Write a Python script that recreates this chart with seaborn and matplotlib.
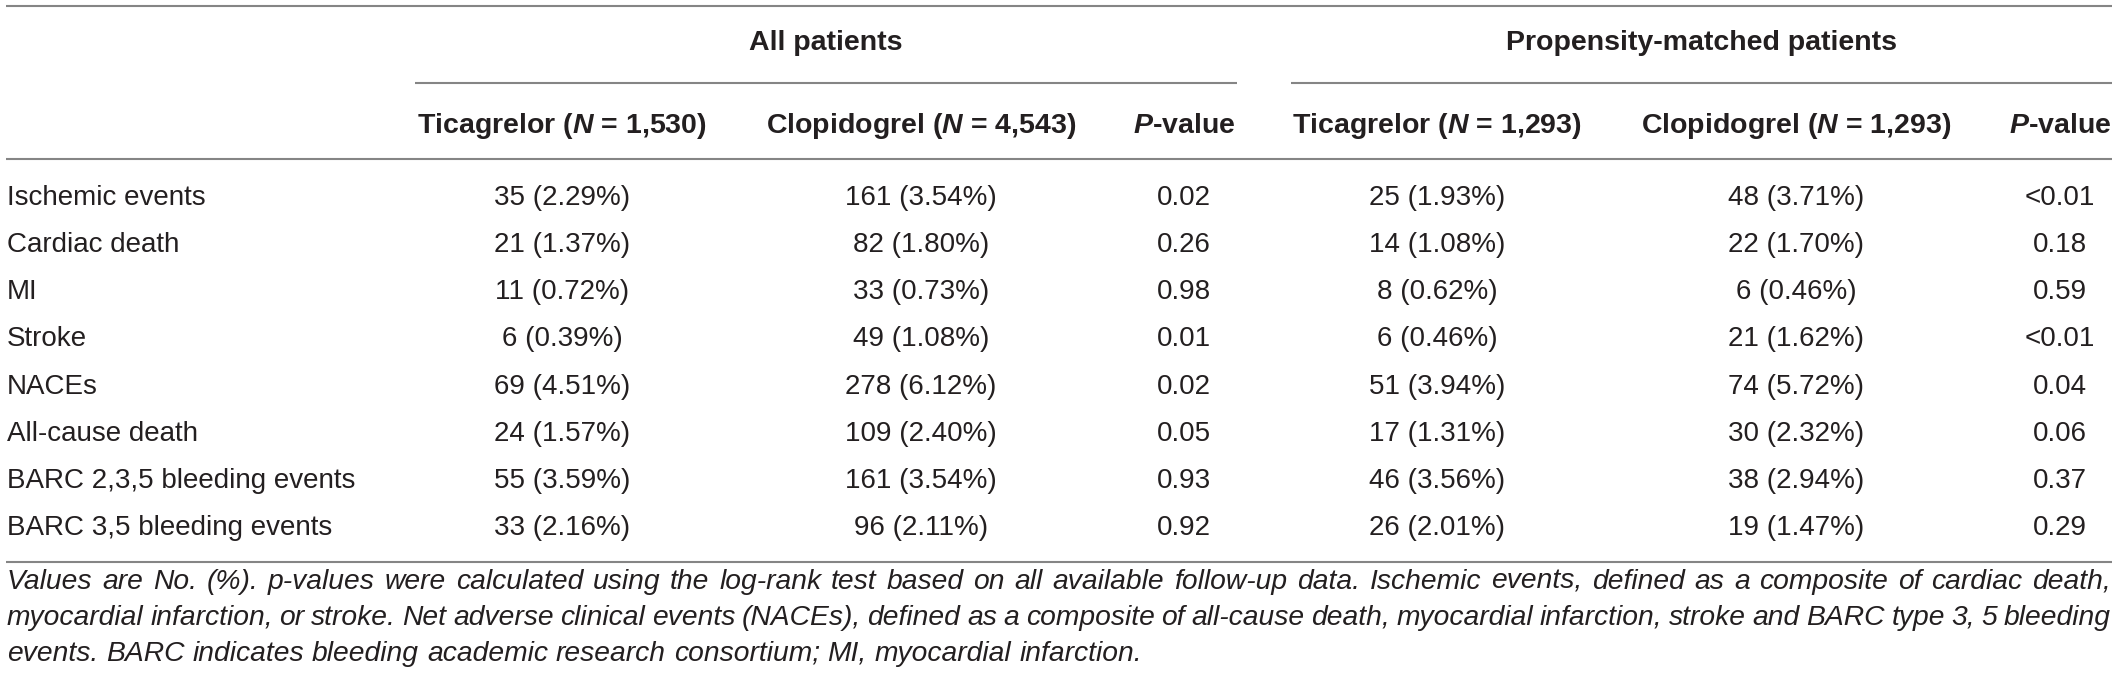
import matplotlib
matplotlib.use("Agg")
import matplotlib.pyplot as plt
import seaborn as sns
from matplotlib import font_manager

# ---------------- data ----------------
row_labels = ["Ischemic events", "Cardiac death", "MI", "Stroke", "NACEs",
              "All-cause death", "BARC 2,3,5 bleeding events", "BARC 3,5 bleeding events"]
all_tica = ["35 (2.29%)", "21 (1.37%)", "11 (0.72%)", "6 (0.39%)", "69 (4.51%)",
            "24 (1.57%)", "55 (3.59%)", "33 (2.16%)"]
all_clop = ["161 (3.54%)", "82 (1.80%)", "33 (0.73%)", "49 (1.08%)", "278 (6.12%)",
            "109 (2.40%)", "161 (3.54%)", "96 (2.11%)"]
all_p = ["0.02", "0.26", "0.98", "0.01", "0.02", "0.05", "0.93", "0.92"]
pm_tica = ["25 (1.93%)", "14 (1.08%)", "8 (0.62%)", "6 (0.46%)", "51 (3.94%)",
           "17 (1.31%)", "46 (3.56%)", "26 (2.01%)"]
pm_clop = ["48 (3.71%)", "22 (1.70%)", "6 (0.46%)", "21 (1.62%)", "74 (5.72%)",
           "30 (2.32%)", "38 (2.94%)", "19 (1.47%)"]
pm_p = ["<0.01", "0.18", "0.59", "<0.01", "0.04", "0.06", "0.37", "0.29"]

group_labels = ["All patients", "Propensity-matched patients"]
drug_names = ["Ticagrelor", "Clopidogrel"]
n_all = [1530, 4543]
n_pm = [1293, 1293]

footnote_lines = [
    "Values are No. (%). p-values were calculated using the log-rank test based on all available follow-up data. Ischemic events, defined as a composite of cardiac death,",
    "myocardial infarction, or stroke. Net adverse clinical events (NACEs), defined as a composite of all-cause death, myocardial infarction, stroke and BARC type 3, 5 bleeding",
    "events. BARC indicates bleeding academic research consortium; MI, myocardial infarction.",
]

# ---------------- style ----------------
sns.set_theme(style="white")
avail = {f.name for f in font_manager.fontManager.ttflist}
FAM = "Liberation Sans" if "Liberation Sans" in avail else "DejaVu Sans"
plt.rcParams["font.family"] = [FAM, "DejaVu Sans"]
plt.rcParams["mathtext.fontset"] = "custom"
plt.rcParams["mathtext.rm"] = f"{FAM}:bold"
plt.rcParams["mathtext.it"] = f"{FAM}:bold:italic"
plt.rcParams["mathtext.bf"] = f"{FAM}:bold"

TXT = "#231f20"
RULE = "#858585"
FS = 20
FS_B = 20.5

W, H = 2118, 684
fig = plt.figure(figsize=(W / 100, H / 100), dpi=100)
ax = fig.add_axes([0, 0, 1, 1])
ax.set_xlim(0, W)
ax.set_ylim(H, 0)
ax.axis("off")
sns.despine(ax=ax, left=True, bottom=True)

# layout
x_left, x_right = 6, 2112
label_x = 7
col_x = [562, 921, 1184, 1437, 1796, 2060]
group_span = [(415, 1237), (1291, 2112)]
row_base0, row_step = 205, 47.14
header_base = 133
group_base = 50

# rules
ax.hlines([5.5, 158.5], x_left, x_right, colors=RULE, lw=1.5)
for (a, b) in group_span:
    ax.hlines(82.5, a, b, colors=RULE, lw=1.5)

# group labels
for lab, (a, b) in zip(group_labels, group_span):
    ax.text((a + b) / 2, group_base, lab, ha="center", va="baseline",
            fontsize=FS_B, fontweight="bold", color=TXT)

# column headers
headers = []
for ns in (n_all, n_pm):
    for name, n in zip(drug_names, ns):
        headers.append(f"{name} ($N$ = {n:,})")
    headers.append("$P$-value")
for x, h in zip(col_x, headers):
    ax.text(x, header_base, h, ha="center", va="baseline", fontsize=FS_B,
            fontweight="bold", color=TXT)

# body
columns = [all_tica, all_clop, all_p, pm_tica, pm_clop, pm_p]
for i, lab in enumerate(row_labels):
    yb = row_base0 + i * row_step
    ax.text(label_x, yb, lab, ha="left", va="baseline", fontsize=FS, color=TXT)
    for x, col in zip(col_x, columns):
        ax.text(x, yb, col[i], ha="center", va="baseline", fontsize=FS, color=TXT)

ax.hlines(561.5, x_left, x_right, colors=RULE, lw=1.5)

# footnote (justified, italic)
renderer = fig.canvas.get_renderer()


def text_width(s, fs):
    t = ax.text(0, 0, s, fontsize=fs, fontstyle="italic")
    w = t.get_window_extent(renderer).width
    t.remove()
    return w


# calibrate footnote size so that last line width matches
target_last = 1129
w20 = text_width(footnote_lines[-1], 20)
fs_foot = 20 * target_last / w20
space_w = text_width("x x", fs_foot) - text_width("xx", fs_foot)

foot_base = [589, 625, 661]
for li, line in enumerate(footnote_lines):
    words = line.split(" ")
    widths = [text_width(w, fs_foot) for w in words]
    if li < len(footnote_lines) - 1:
        gap = ((x_right - 1) - label_x - sum(widths)) / (len(words) - 1)
    else:
        gap = space_w
    x = label_x
    for w, wd in zip(words, widths):
        ax.text(x, foot_base[li], w, ha="left", va="baseline", fontsize=fs_foot,
                fontstyle="italic", color=TXT)
        x += wd + gap

fig.savefig("out.png", dpi=100, facecolor="white")
